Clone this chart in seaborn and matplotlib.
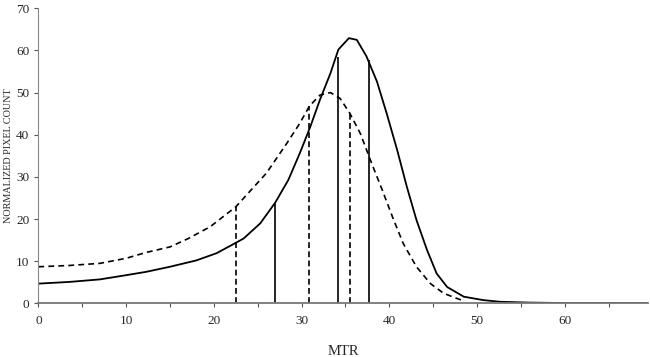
import matplotlib
matplotlib.use("Agg")
import matplotlib.pyplot as plt
import seaborn as sns
import pandas as pd

# Solid curve
solid_x = [0, 3.5, 7, 10, 12.3, 15, 18, 20.3, 22, 23.4, 25.3, 27, 28.5, 29.8, 31, 32.1,
           33.3, 34.2, 35.4, 36.3, 37.4, 38.6, 39.7, 40.9, 42, 43.1, 44.3, 45.4, 46.6,
           48.5, 50.7, 52.6, 56, 60, 65, 69.5]
solid_y = [4.7, 5.1, 5.7, 6.7, 7.5, 8.7, 10.2, 11.9, 13.8, 15.4, 19.0, 23.9, 29.3, 35.6, 41.9, 48.3,
           54.6, 60.2, 62.9, 62.5, 58.6, 52.6, 45.1, 36.4, 27.7, 19.8, 12.7, 7.1, 3.9,
           1.6, 0.8, 0.4, 0.2, 0.1, 0.1, 0.1]

# Dashed curve
dashed_x = [0, 3.5, 7, 10, 12.3, 15, 17.1, 19.6, 22.5, 25.3, 26, 28.3, 29.8, 30.9, 32.1,
            33.3, 34.4, 35.5, 36.7, 38, 39.2, 40.5, 41.6, 43.1, 44.7, 46.2, 47.7, 48.5]
dashed_y = [8.7, 9.0, 9.5, 10.7, 12.1, 13.4, 15.4, 18.2, 22.9, 29.3, 30.9, 37.9, 42.7, 46.8, 49.4,
            50.0, 48.6, 45.1, 40.3, 33.2, 26.9, 19.8, 14.2, 8.7, 4.7, 2.4, 1.2, 0.6]

# Vertical marker lines
solid_vx = [27.0, 34.2, 37.7]
solid_vtop = [23.9, 58.4, 57.8]
dashed_vx = [22.5, 30.9, 35.5]
dashed_vtop = [22.9, 46.8, 45.1]

x_ticks = [0, 10, 20, 30, 40, 50, 60]
y_ticks = [0, 10, 20, 30, 40, 50, 60, 70]

sns.set_style("white")
plt.rcParams['font.family'] = ['Liberation Serif', 'DejaVu Serif']

fig = plt.figure(figsize=(6.5, 3.57), dpi=100)
ax = fig.add_axes([0.059, 0.150, 0.938, 0.827])

df_s = pd.DataFrame({"x": solid_x, "y": solid_y})
df_d = pd.DataFrame({"x": dashed_x, "y": dashed_y})
sns.lineplot(data=df_s, x="x", y="y", ax=ax, color="black", linewidth=1.3)
sns.lineplot(data=df_d, x="x", y="y", ax=ax, color="black", linewidth=1.2,
             linestyle=(0, (3.5, 2.5)))

ax.vlines(solid_vx, 0, solid_vtop, colors="black", linewidth=1.2)
ax.vlines(dashed_vx, 0, dashed_vtop, colors="black", linewidth=1.2, linestyles=(0, (3.5, 2.0)))

ax.set_xlim(0, 69.5)
ax.set_ylim(0, 70)
ax.set_xticks(x_ticks)
ax.set_xticks([5, 15, 25, 35, 45, 55, 65], minor=True)
ax.set_yticks(y_ticks)
ax.tick_params(axis="both", which="both", direction="out", length=3, width=0.8,
               color="#555555", labelsize=9.5, bottom=True, left=True)
ax.tick_params(axis="x", pad=5.5)

for s in ["top", "right"]:
    ax.spines[s].set_visible(False)
ax.spines["bottom"].set_color("#777777")
ax.spines["bottom"].set_linewidth(1.3)
ax.spines["left"].set_color("#888888")
ax.spines["left"].set_linewidth(0.8)

ax.set_xlabel("MTR", fontsize=10.5, labelpad=13)
ax.set_ylabel("NORMALIZED PIXEL COUNT", fontsize=7.3, labelpad=2)

fig.savefig("out.png", dpi=100)
